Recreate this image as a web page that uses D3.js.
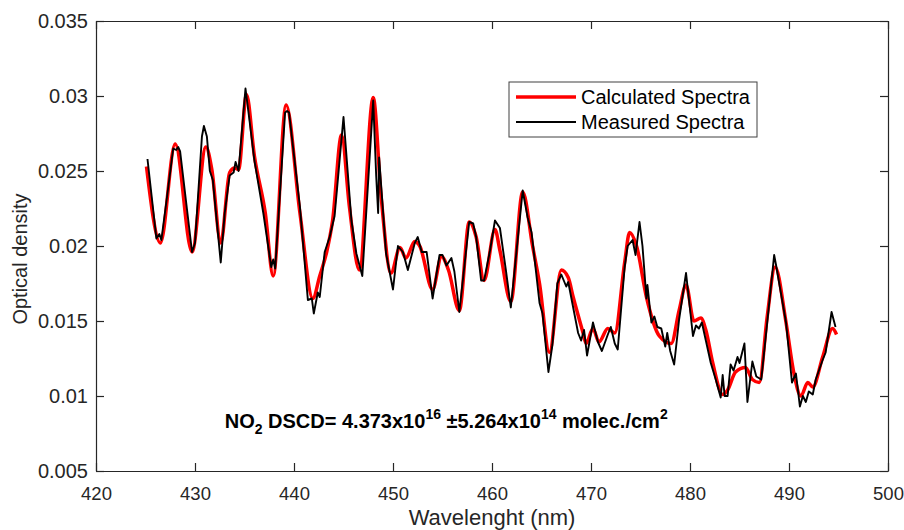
<!DOCTYPE html>
<html>
<head>
<meta charset="utf-8">
<script src="https://cdn.jsdelivr.net/npm/d3@7"></script>
<style>
  body { margin: 0; background: #fff; }
  svg { display: block; font-family: "Liberation Sans", Arial, sans-serif; }
</style>
</head>
<body>
<div class="graph"></div>
<script>
// calculated spectrum (smooth fit)
const calcWl = [425.1, 426.5, 428.0, 429.7, 431.1, 431.7, 432.6, 433.5, 434.0, 434.4, 435.2, 436.0,
  437.1, 437.9, 439.2, 440.6, 441.9, 442.6, 443.3, 443.9, 444.8, 445.6, 446.6, 448.0, 448.8,
  449.8, 450.7, 451.3, 452.2, 452.7, 454.0, 454.9, 455.6, 456.7, 457.7, 458.4, 459.2, 460.3,
  460.8, 461.9, 463.1, 464.1, 464.8, 465.8, 467.0, 467.7, 468.2, 469.2, 469.5, 470.2, 470.8,
  471.7, 472.4, 473.4, 473.9, 474.6, 475.6, 476.9, 478.1, 478.9, 479.6, 480.4, 481.1, 481.6,
  482.3, 483.3, 483.8, 484.6, 485.6, 486.3, 487.0, 487.8, 488.6, 489.7, 490.5, 491.2, 491.9,
  492.4, 493.4, 494.4, 494.8];
const calcVal = [0.0253, 0.0202, 0.0268, 0.0196, 0.0266, 0.0251, 0.0202, 0.0249, 0.0252, 0.0251,
  0.0301, 0.0260, 0.0222, 0.0180, 0.0294, 0.0222, 0.0165, 0.0180, 0.0196, 0.0217, 0.0274,
  0.0226, 0.0184, 0.0299, 0.0233, 0.0182, 0.0199, 0.0192, 0.0203, 0.0200, 0.0171, 0.0193,
  0.0184, 0.0157, 0.0216, 0.0206, 0.0177, 0.0211, 0.0197, 0.0163, 0.0236, 0.0200, 0.0175,
  0.0129, 0.0184, 0.0179, 0.0166, 0.0142, 0.0135, 0.0145, 0.0136, 0.0145, 0.0142, 0.0189,
  0.0209, 0.0200, 0.0166, 0.0140, 0.0135, 0.0157, 0.0174, 0.0150, 0.0152, 0.0144, 0.0122,
  0.0101, 0.0104, 0.0116, 0.0119, 0.0111, 0.0109, 0.0153, 0.0186, 0.0149, 0.0115, 0.0100,
  0.0109, 0.0106, 0.0126, 0.0145, 0.0141];

// measured spectrum
const measWl = [425.2, 426.1, 426.4, 426.6, 427.1, 427.8, 428.1, 428.3, 428.5, 429.7, 430.0, 430.7,
  430.9, 431.2, 431.5, 431.8, 432.6, 433.0, 433.5, 433.9, 434.1, 434.4, 435.1, 435.5, 436.0,
  436.9, 437.7, 437.9, 438.1, 439.1, 439.3, 439.5, 440.6, 441.4, 441.8, 442.0, 442.4, 442.6,
  443.1, 443.6, 444.1, 445.0, 445.8, 446.3, 446.9, 448.0, 448.3, 448.5, 448.6, 449.3, 450.0,
  450.5, 451.0, 451.5, 452.2, 452.5, 452.9, 453.4, 454.0, 454.7, 455.0, 455.4, 455.9, 456.2,
  456.7, 457.7, 458.1, 458.4, 458.9, 459.2, 459.8, 460.3, 460.8, 461.4, 461.9, 463.1, 463.6,
  464.0, 464.8, 465.1, 465.7, 466.1, 466.6, 467.0, 467.5, 467.7, 468.7, 469.0, 469.3, 469.6,
  470.2, 470.7, 471.1, 471.7, 472.0, 472.4, 472.7, 473.4, 473.7, 474.2, 474.5, 474.9, 475.2,
  475.6, 475.7, 476.1, 476.4, 476.7, 477.1, 477.5, 477.7, 478.0, 478.4, 478.9, 479.6, 480.3,
  480.6, 480.9, 481.2, 481.6, 482.1, 482.6, 483.1, 483.3, 483.5, 483.8, 484.1, 484.4, 484.8,
  485.0, 485.5, 485.8, 486.3, 486.7, 487.2, 487.8, 488.5, 488.7, 489.7, 490.3, 490.7, 491.1,
  491.4, 491.7, 492.0, 492.4, 492.7, 493.4, 493.7, 494.3, 494.7];
const measVal = [0.0258, 0.0205, 0.0208, 0.0204, 0.0229, 0.0265, 0.0264, 0.0266, 0.0263, 0.0196,
  0.0202, 0.0273, 0.0280, 0.0273, 0.0250, 0.0244, 0.0189, 0.0222, 0.0247, 0.0249, 0.0256,
  0.0250, 0.0305, 0.0284, 0.0257, 0.0222, 0.0186, 0.0191, 0.0185, 0.0289, 0.0290, 0.0289,
  0.0226, 0.0164, 0.0165, 0.0155, 0.0169, 0.0166, 0.0196, 0.0206, 0.0220, 0.0286, 0.0217,
  0.0195, 0.0180, 0.0297, 0.0247, 0.0222, 0.0259, 0.0195, 0.0171, 0.0200, 0.0196, 0.0184,
  0.0202, 0.0206, 0.0196, 0.0196, 0.0165, 0.0194, 0.0194, 0.0187, 0.0192, 0.0183, 0.0156,
  0.0216, 0.0215, 0.0206, 0.0177, 0.0177, 0.0197, 0.0217, 0.0212, 0.0184, 0.0159, 0.0237,
  0.0219, 0.0209, 0.0162, 0.0155, 0.0116, 0.0134, 0.0175, 0.0181, 0.0173, 0.0176, 0.0142,
  0.0137, 0.0144, 0.0127, 0.0149, 0.0136, 0.0130, 0.0141, 0.0146, 0.0135, 0.0131, 0.0186,
  0.0200, 0.0204, 0.0194, 0.0216, 0.0200, 0.0165, 0.0174, 0.0149, 0.0153, 0.0146, 0.0145,
  0.0133, 0.0142, 0.0130, 0.0121, 0.0151, 0.0182, 0.0140, 0.0147, 0.0145, 0.0149, 0.0137,
  0.0122, 0.0111, 0.0099, 0.0114, 0.0100, 0.0100, 0.0121, 0.0117, 0.0126, 0.0122, 0.0135,
  0.0096, 0.0123, 0.0113, 0.0111, 0.0149, 0.0194, 0.0187, 0.0149, 0.0109, 0.0115, 0.0093,
  0.0100, 0.0096, 0.0103, 0.0101, 0.0111, 0.0124, 0.0129, 0.0156, 0.0146];

const xTicks = [420, 430, 440, 450, 460, 470, 480, 490, 500];
const yTicks = [0.005, 0.01, 0.015, 0.02, 0.025, 0.03, 0.035];
const yTickLabels = ["0.005", "0.01", "0.015", "0.02", "0.025", "0.03", "0.035"];
const seriesNames = ["Calculated Spectra", "Measured Spectra"];

let w = 904;
let h = 530;
let m = { left: 96, top: 21, right: 16, bottom: 59 };
let pw = w - m.left - m.right;
let ph = h - m.top - m.bottom;
let axisColor = "#262626";

let svg = d3.select(".graph").append("svg").attr("width", w).attr("height", h);
let g = svg.append("g").attr("transform", `translate(${m.left},${m.top})`);

let xScale = d3.scaleLinear().domain([420, 500]).range([0, pw]);
let yScale = d3.scaleLinear().domain([0.005, 0.035]).range([ph, 0]);

let calc = calcWl.map((d, i) => [d, calcVal[i]]);
let meas = measWl.map((d, i) => [d, measVal[i]]);

let line = d3.line().x((d) => xScale(d[0])).y((d) => yScale(d[1]));

g.append("path")
  .datum(calc)
  .attr("fill", "none")
  .attr("stroke", "#ff0000")
  .attr("stroke-width", 3.5)
  .attr("stroke-linejoin", "round")
  .attr("d", line.curve(d3.curveMonotoneX));

g.append("path")
  .datum(meas)
  .attr("fill", "none")
  .attr("stroke", "#000")
  .attr("stroke-width", 1.9)
  .attr("stroke-linejoin", "round")
  .attr("d", d3.line().x((d) => xScale(d[0])).y((d) => yScale(d[1]))(meas));

// axes, box style with ticks pointing inwards
let xAxis = d3.axisBottom(xScale).tickValues(xTicks).tickSize(-8).tickSizeOuter(0).tickPadding(16).tickFormat(d3.format("d"));
let yAxis = d3.axisLeft(yScale).tickValues(yTicks).tickSize(-8).tickSizeOuter(0).tickPadding(8)
  .tickFormat((d, i) => yTickLabels[i]);
let xTop = d3.axisTop(xScale).tickValues(xTicks).tickSize(-8).tickSizeOuter(0).tickFormat("");
let yRight = d3.axisRight(yScale).tickValues(yTicks).tickSize(-8).tickSizeOuter(0).tickFormat("");

let gx = g.append("g").attr("transform", `translate(0,${ph})`).call(xAxis);
g.append("g").call(yAxis);
g.append("g").call(xTop);
g.append("g").attr("transform", `translate(${pw},0)`).call(yRight);

g.selectAll(".domain, .tick line").attr("stroke", axisColor).attr("stroke-width", 1.2);
g.selectAll(".tick text")
  .attr("fill", axisColor)
  .style("font-size", "20px")
  .style("font-family", '"Liberation Sans", Arial, sans-serif');
gx.selectAll(".tick text").style("font-size", "18.5px");

svg.append("text")
  .attr("x", m.left + pw / 2)
  .attr("y", 525)
  .attr("text-anchor", "middle")
  .attr("fill", axisColor)
  .style("font-size", "22px")
  .text("Wavelenght (nm)");

svg.append("text")
  .attr("transform", `translate(27,259) rotate(-90)`)
  .attr("text-anchor", "middle")
  .attr("fill", axisColor)
  .style("font-size", "20px")
  .text("Optical density");

// DSCD annotation
let note = g.append("text")
  .attr("x", xScale(433))
  .attr("y", yScale(0.0079))
  .attr("fill", "#000")
  .style("font-size", "20px")
  .style("font-weight", "bold");
note.append("tspan").text("NO");
note.append("tspan").attr("dy", 6).style("font-size", "14px").text("2");
note.append("tspan").attr("dy", -6).text(" DSCD= 4.373x10");
note.append("tspan").attr("dy", -9).style("font-size", "14px").text("16");
note.append("tspan").attr("dy", 9).text(" \u00b15.264x10");
note.append("tspan").attr("dy", -9).style("font-size", "14px").text("14");
note.append("tspan").attr("dy", 9).text(" molec./cm");
note.append("tspan").attr("dy", -9).style("font-size", "14px").text("2");

// legend
let legend = svg.append("g").attr("transform", "translate(509,82)");
legend.append("rect")
  .attr("width", 248)
  .attr("height", 55)
  .attr("fill", "#fff")
  .attr("stroke", "#404040")
  .attr("stroke-width", 1);
let legColors = ["#ff0000", "#000"];
let legWidths = [3.5, 1.9];
seriesNames.forEach(function (name, i) {
  legend.append("line")
    .attr("x1", 7).attr("x2", 67)
    .attr("y1", 15 + i * 25).attr("y2", 15 + i * 25)
    .attr("stroke", legColors[i])
    .attr("stroke-width", legWidths[i]);
  legend.append("text")
    .attr("x", 72)
    .attr("y", 22 + i * 25)
    .attr("fill", "#000")
    .style("font-size", "20px")
    .text(name);
});
</script>
</body>
</html>
